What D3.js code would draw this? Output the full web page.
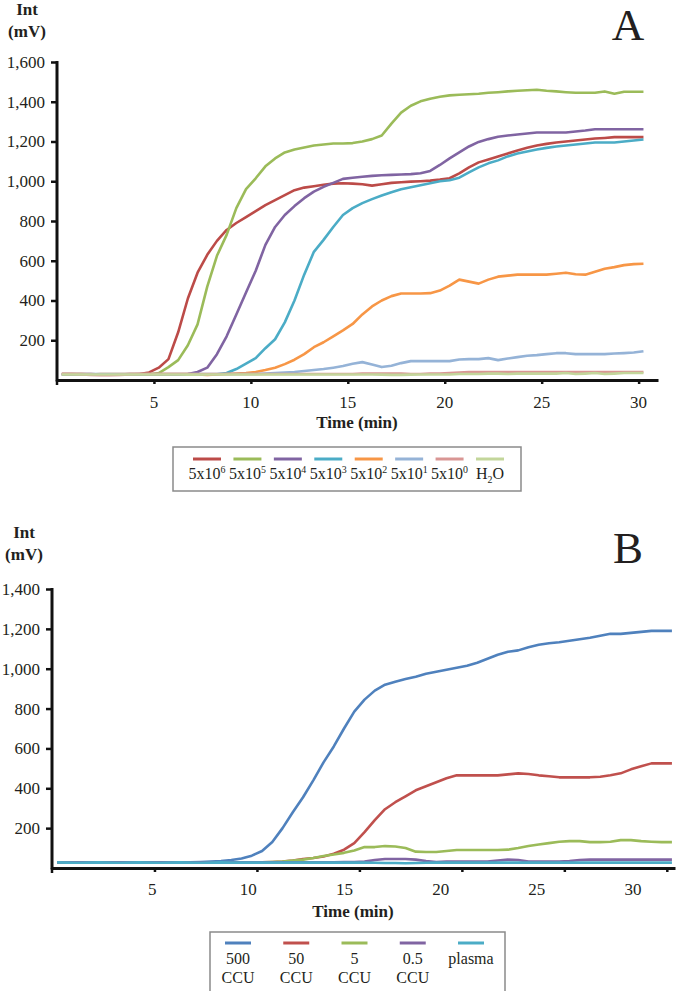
<!DOCTYPE html>
<html>
<head>
<meta charset="utf-8">
<script src="https://cdn.jsdelivr.net/npm/d3@7"></script>
<style>
	body { margin: 0; background: #fff; }
	svg { display: block; }
	text { font-family: "Liberation Serif", "Times New Roman", serif; fill: #231f20; }
</style>
</head>
<body>
<div id="chart"></div>
<script>
// sampling times (min), shared by both panels
const minutes = [
	0.25, 0.75, 1.25, 1.75, 2.25, 2.75, 3.25, 3.75, 4.25, 4.75,
	5.25, 5.75, 6.25, 6.75, 7.25, 7.75, 8.25, 8.75, 9.25, 9.75,
	10.25, 10.75, 11.25, 11.75, 12.25, 12.75, 13.25, 13.75, 14.25, 14.75,
	15.25, 15.75, 16.25, 16.75, 17.25, 17.75, 18.25, 18.75, 19.25, 19.75,
	20.25, 20.75, 21.25, 21.75, 22.25, 22.75, 23.25, 23.75, 24.25, 24.75,
	25.25, 25.75, 26.25, 26.75, 27.25, 27.75, 28.25, 28.75, 29.25, 29.75,
	30.25
];

// panel A
const namesA = ['5x10^6', '5x10^5', '5x10^4', '5x10^3', '5x10^2', '5x10^1', '5x10^0', 'H_2O'];
const colorsA = ['#bc4b48', '#9bbb59', '#8064a2', '#4bacc6', '#f79646', '#95b3d7', '#d99694', '#c3d69b'];

const a6 = [
	30, 30, 30, 30, 28, 27, 28, 30, 30, 38,
	62, 105, 240, 410, 540, 630, 700, 755, 790, 820,
	850, 880, 905, 930, 955, 968, 975, 982, 988, 990,
	988, 985, 978, 985, 992, 995, 998, 1000, 1003, 1008,
	1015, 1040, 1070, 1095, 1110, 1125, 1140, 1155, 1168, 1180,
	1188, 1195, 1200, 1205, 1210, 1215, 1218, 1222, 1222, 1222,
	1222
];
const a5 = [
	28, 28, 28, 28, 28, 27, 28, 28, 28, 28,
	35, 65, 100, 175, 280, 470, 625, 730, 865, 960,
	1015, 1075, 1115, 1145, 1160, 1170, 1180, 1185, 1190, 1190,
	1192, 1200, 1212, 1230, 1290, 1345, 1380, 1402, 1415, 1425,
	1432, 1435, 1438, 1440, 1445, 1448, 1452, 1455, 1458, 1460,
	1455, 1452, 1448, 1445, 1445, 1445, 1452, 1440, 1450, 1450,
	1450
];
const a4 = [
	28, 28, 28, 28, 28, 28, 28, 28, 28, 28,
	28, 28, 28, 30, 40, 62, 130, 220, 330, 440,
	550, 680, 770, 830, 875, 915, 948, 972, 992, 1012,
	1018, 1023, 1027, 1030, 1032, 1034, 1036, 1040, 1052, 1082,
	1115, 1145, 1175, 1198, 1212, 1224, 1230, 1235, 1240, 1245,
	1245, 1245, 1245, 1250, 1255, 1262, 1262, 1262, 1262, 1262,
	1262
];
const a3 = [
	28, 28, 28, 28, 28, 28, 28, 28, 28, 28,
	28, 28, 28, 28, 28, 28, 29, 35, 55, 82,
	110, 160, 205, 290, 400, 530, 645, 705, 770, 830,
	865, 890, 910, 928, 945, 960, 970, 980, 990, 1000,
	1005, 1018, 1045, 1070, 1090, 1105, 1125, 1140, 1150, 1160,
	1168, 1175, 1180, 1185, 1190, 1195, 1195, 1195, 1200, 1205,
	1210
];
const a2 = [
	30, 30, 30, 28, 30, 30, 30, 30, 30, 30,
	30, 30, 30, 30, 28, 26, 28, 30, 32, 35,
	40, 50, 62, 80, 102, 130, 165, 190, 220, 250,
	282, 330, 370, 400, 422, 435, 435, 435, 437, 450,
	475, 505, 495, 485, 505, 520, 525, 530, 530, 530,
	530, 535, 540, 532, 530, 545, 560, 568, 578, 583,
	585
];
const a1 = [
	30, 30, 30, 30, 30, 30, 30, 30, 30, 30,
	30, 30, 30, 30, 30, 30, 30, 30, 30, 30,
	30, 32, 35, 38, 40, 45, 50, 55, 62, 70,
	82, 90, 78, 65, 72, 85, 95, 95, 95, 95,
	95, 103, 105, 105, 110, 100, 108, 115, 122, 125,
	130, 135, 135, 130, 130, 130, 130, 133, 135, 138,
	145
];
const a0 = [
	30, 30, 28, 26, 24, 24, 26, 28, 30, 30,
	30, 30, 30, 30, 30, 30, 30, 30, 30, 30,
	30, 30, 30, 30, 30, 30, 30, 30, 30, 30,
	30, 32, 33, 33, 33, 32, 30, 30, 32, 33,
	35, 38, 40, 40, 40, 40, 40, 40, 40, 40,
	40, 40, 40, 40, 40, 40, 40, 40, 40, 40,
	40
];
const aWater = [
	28, 28, 28, 28, 28, 28, 28, 28, 28, 28,
	28, 28, 28, 27, 27, 28, 28, 28, 28, 28,
	28, 28, 28, 28, 28, 28, 28, 28, 28, 28,
	28, 28, 28, 27, 26, 26, 27, 28, 28, 28,
	28, 30, 30, 30, 32, 32, 30, 32, 32, 33,
	32, 32, 35, 30, 32, 35, 30, 32, 35, 35,
	35
];

// panel B
const namesB = ['500 CCU', '50 CCU', '5 CCU', '0.5 CCU', 'plasma'];
const colorsB = ['#4f81bd', '#c0504d', '#9bbb59', '#8064a2', '#4bacc6'];

const b500 = [
	28, 27, 28, 27, 28, 27, 28, 27, 28, 28,
	27, 28, 28, 28, 30, 32, 35, 40, 48, 62,
	85, 130, 200, 280, 355, 440, 530, 610, 700, 785,
	845, 890, 920, 935, 948, 960, 975, 985, 995, 1005,
	1015, 1030, 1050, 1070, 1085, 1092, 1108, 1120, 1128, 1133,
	1140, 1148, 1155, 1165, 1175, 1175, 1180, 1185, 1190, 1190,
	1190
];
const b50 = [
	28, 28, 28, 28, 28, 28, 28, 28, 28, 28,
	28, 28, 28, 28, 28, 28, 28, 28, 28, 28,
	28, 30, 33, 38, 45, 50, 58, 72, 92, 125,
	180, 240, 295, 330, 360, 390, 410, 430, 450, 465,
	465, 465, 465, 465, 470, 475, 472, 465, 460, 455,
	455, 455, 455, 458, 465, 475, 495, 510, 525, 525,
	525
];
const b5 = [
	28, 28, 28, 28, 28, 28, 28, 28, 28, 28,
	28, 28, 28, 28, 28, 28, 28, 28, 28, 28,
	28, 30, 33, 38, 42, 50, 60, 68, 76, 88,
	105, 105, 110, 108, 100, 82, 80, 80, 85, 90,
	90, 90, 90, 90, 92, 100, 110, 118, 125, 132,
	135, 135, 130, 130, 132, 140, 140, 135, 132, 130,
	130
];
const b05 = [
	28, 28, 28, 28, 28, 28, 28, 28, 28, 28,
	28, 28, 28, 28, 28, 28, 28, 28, 28, 28,
	28, 28, 28, 28, 28, 28, 28, 28, 30, 30,
	32, 40, 45, 45, 45, 42, 35, 30, 32, 32,
	32, 32, 32, 38, 42, 40, 32, 32, 32, 32,
	35, 40, 42, 42, 42, 42, 42, 42, 42, 42,
	42
];
const bPlasma = [
	28, 27, 26, 27, 28, 27, 26, 27, 28, 27,
	26, 27, 28, 27, 26, 27, 28, 27, 27, 27,
	27, 27, 27, 27, 27, 27, 27, 27, 27, 27,
	27, 26, 25, 25, 24, 25, 26, 27, 27, 27,
	27, 27, 27, 27, 27, 27, 27, 27, 27, 27,
	27, 27, 27, 27, 27, 27, 27, 27, 27, 27,
	27
];

const timeTicks = [5, 10, 15, 20, 25, 30];
const yTicksA = [200, 400, 600, 800, 1000, 1200, 1400, 1600];
const yTicksB = [200, 400, 600, 800, 1000, 1200, 1400];

const W = 678, H = 991;
const svg = d3.select('#chart').append('svg')
	.attr('width', W)
	.attr('height', H);

const fmt = d3.format(',');

// writes "5x10^6" / "H_2O" with real super/subscripts
function richLabel(sel, label, size) {
	const m = label.match(/^([^\^_]*)([\^_])(\w)(.*)$/);
	if (!m) { sel.text(label); return; }
	sel.append('tspan').text(m[1]);
	const up = m[2] === '^';
	sel.append('tspan')
		.attr('font-size', size * 0.62)
		.attr('dy', up ? -size * 0.38 : size * 0.25)
		.text(m[3]);
	if (m[4]) {
		sel.append('tspan')
			.attr('dy', up ? size * 0.38 : -size * 0.25)
			.text(m[4]);
	}
}

function drawPanel(p) {
	const g = svg.append('g');
	const { x, y } = p;

	// lines
	const line = d3.line()
		.x((d, i) => x(minutes[i]))
		.y((d) => y(d));

	g.append('g').selectAll('path')
		.data(p.series)
		.enter()
		.append('path')
		.attr('d', (d) => line(d))
		.attr('fill', 'none')
		.attr('stroke', (d, i) => p.colors[i])
		.attr('stroke-width', 2.6)
		.attr('stroke-linejoin', 'round');

	// y axis
	const yAxis = g.append('g')
		.attr('transform', `translate(${x.range()[0]},0)`)
		.call(d3.axisLeft(y).tickValues(p.yTicks).tickFormat(fmt).tickSize(6).tickPadding(6));
	yAxis.select('.domain').remove();
	yAxis.append('line')
		.attr('y1', y(p.yTicks[p.yTicks.length - 1]) - 1)
		.attr('y2', y(0) + 1.5)
		.attr('stroke', '#111')
		.attr('stroke-width', 3);
	yAxis.selectAll('.tick line').attr('stroke', '#111').attr('stroke-width', 2.5);
	yAxis.selectAll('.tick text')
		.attr('font-size', 17)
		.attr('font-family', '"Liberation Serif", serif')
		.attr('fill', '#231f20');

	// x axis
	const xAxis = g.append('g')
		.attr('transform', `translate(0,${y(0)})`)
		.call(d3.axisBottom(x).tickValues(timeTicks).tickFormat('').tickSizeInner(4).tickSizeOuter(0));
	xAxis.select('.domain')
		.attr('stroke', '#111')
		.attr('stroke-width', 3);
	xAxis.selectAll('.tick line').attr('stroke', '#111').attr('stroke-width', 2.5);
	xAxis.append('line')
		.attr('x1', x.range()[0]).attr('x2', x.range()[0])
		.attr('y1', 0).attr('y2', 5)
		.attr('stroke', '#111').attr('stroke-width', 2.5);

	g.append('g').selectAll('text')
		.data(timeTicks)
		.enter()
		.append('text')
		.attr('x', (d) => p.xLabel(d))
		.attr('y', y(0) + p.labelDrop)
		.attr('text-anchor', 'middle')
		.attr('font-size', 17)
		.text((d) => d);

	g.append('text')
		.attr('x', p.titleX)
		.attr('y', p.titleY)
		.attr('text-anchor', 'middle')
		.attr('font-size', 17)
		.attr('font-weight', 'bold')
		.text('Time (min)');

	g.append('text')
		.attr('x', p.unitX).attr('y', p.unitY)
		.attr('text-anchor', 'middle')
		.attr('font-size', 17)
		.attr('font-weight', 'bold')
		.text('Int');
	g.append('text')
		.attr('x', p.unitX).attr('y', p.unitY + 22)
		.attr('text-anchor', 'middle')
		.attr('font-size', 17)
		.attr('font-weight', 'bold')
		.text('(mV)');

	g.append('text')
		.attr('x', 628).attr('y', p.letterY)
		.attr('text-anchor', 'middle')
		.attr('font-size', 45)
		.text(p.letter);

	// legend
	const L = p.legend;
	const lg = g.append('g');
	lg.append('rect')
		.attr('x', L.x0).attr('y', L.y0)
		.attr('width', L.x1 - L.x0).attr('height', L.y1 - L.y0)
		.attr('fill', '#fff')
		.attr('stroke', '#8a8a8a')
		.attr('stroke-width', 1.5);

	const lx = d3.scalePoint().domain(p.names).range(L.range);
	const item = lg.selectAll('.item')
		.data(p.names)
		.enter()
		.append('g')
		.attr('class', 'item')
		.attr('transform', (d) => `translate(${lx(d)},0)`);

	item.append('line')
		.attr('x1', -L.swatch / 2).attr('x2', L.swatch / 2)
		.attr('y1', L.swatchY).attr('y2', L.swatchY)
		.attr('stroke', (d, i) => p.colors[i])
		.attr('stroke-width', 3);

	item.each(function (d) {
		const el = d3.select(this);
		const parts = L.split ? d.split(' ') : [d];
		parts.forEach((part, k) => {
			const t = el.append('text')
				.attr('x', 0)
				.attr('y', L.textY + k * 19)
				.attr('text-anchor', 'middle')
				.attr('font-size', 16);
			richLabel(t, part, 16);
		});
	});
}

drawPanel({
	x: d3.scaleLinear().domain([0, 31]).range([57, 658]),
	y: d3.scaleLinear().domain([0, 1600]).range([380, 62]),
	xLabel: d3.scaleLinear().domain([0, 31]).range([57, 658]),
	labelDrop: 28,
	yTicks: yTicksA,
	series: [a6, a5, a4, a3, a2, a1, a0, aWater],
	colors: colorsA,
	names: namesA,
	titleX: 357, titleY: 428,
	unitX: 27, unitY: 15,
	letter: 'A', letterY: 40,
	legend: { x0: 173, x1: 521, y0: 447, y1: 491, range: [207, 490], swatch: 28, swatchY: 459, textY: 479, split: false }
});

drawPanel({
	x: d3.scaleLinear().domain([0, 30.4]).range([52, 675]),
	y: d3.scaleLinear().domain([0, 1400]).range([868, 589]),
	// the figure's tick labels drift left of their tick marks
	xLabel: d3.scaleLinear().domain([0, 30]).range([56, 633]),
	labelDrop: 27,
	yTicks: yTicksB,
	series: [b500, b50, b5, b05, bPlasma],
	colors: colorsB,
	names: namesB,
	titleX: 353, titleY: 917,
	unitX: 24, unitY: 538,
	letter: 'B', letterY: 563,
	legend: { x0: 210, x1: 505, y0: 932, y1: 1000, range: [238, 471], swatch: 26, swatchY: 943, textY: 964, split: true }
});
</script>
</body>
</html>
